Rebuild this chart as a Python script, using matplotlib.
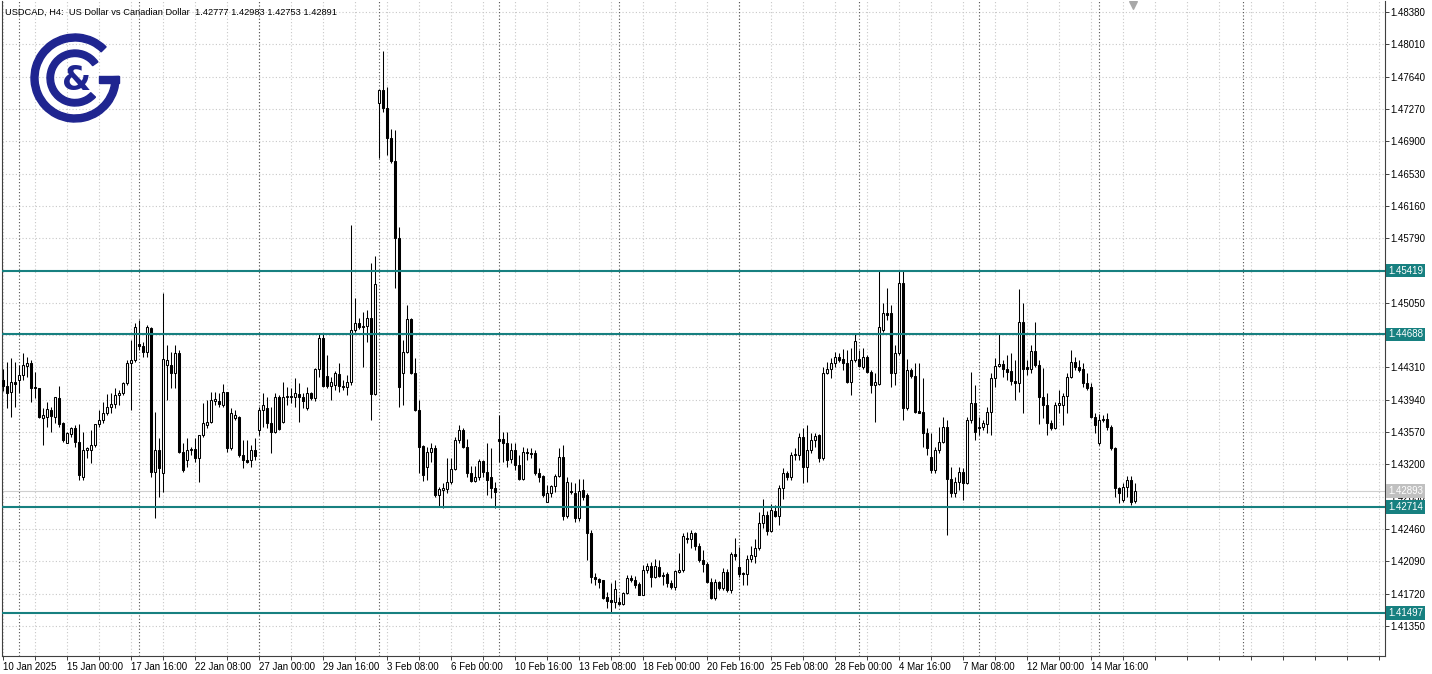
import matplotlib
matplotlib.use("Agg")
import matplotlib.pyplot as plt
import matplotlib.transforms as mtransforms
from matplotlib.patches import Wedge, Rectangle

plt.rcParams['font.family'] = ['Liberation Sans', 'DejaVu Sans']

# ---------------- data (USDCAD H4) ----------------
opens = [
 1.4417,1.4410,1.4403,1.4414,1.4417,1.4422,1.4433,1.4436,1.4409,1.4408,
 1.4373,1.4374,1.4382,1.4374,1.4396,1.4367,1.4345,1.4355,1.4362,1.4346,
 1.4306,1.4337,1.4337,1.4342,1.4366,1.4371,1.4379,1.4386,1.4389,1.4400,
 1.4402,1.4413,1.4436,1.4440,1.4458,1.4455,1.4449,1.4476,1.4311,1.4337,
 1.4310,1.4434,1.4434,1.4425,1.4448,1.4334,1.4325,1.4336,1.4338,1.4327,
 1.4354,1.4365,1.4368,1.4393,1.4393,1.4388,1.4403,1.4339,1.4373,1.4374,
 1.4331,1.4325,1.4325,1.4336,1.4359,1.4382,1.4385,1.4367,1.4357,1.4397,
 1.4369,1.4397,1.4398,1.4397,1.4401,1.4397,1.4385,1.4402,1.4396,1.4429,
 1.4465,1.4421,1.4410,1.4411,1.4424,1.4410,1.4409,1.4414,1.4474,1.4482,
 1.4478,1.4478,1.4488,1.4401,1.4734,1.4749,1.4728,1.4694,1.4667,1.4579,
 1.4425,1.4449,1.4486,1.4425,1.4382,1.4341,1.4317,1.4334,1.4339,1.4285,
 1.4291,1.4292,1.4300,1.4315,1.4348,1.4359,1.4340,1.4310,1.4301,1.4306,
 1.4324,1.4311,1.4306,1.4293,1.4349,1.4349,1.4345,1.4326,1.4337,1.4319,
 1.4303,1.4334,1.4333,1.4333,1.4310,1.4307,1.4277,1.4287,1.4295,1.4307,
 1.4329,1.4261,1.4289,1.4287,1.4259,1.4291,1.4285,1.4242,1.4191,1.4189,
 1.4188,1.4168,1.4165,1.4163,1.4163,1.4160,1.4173,1.4190,1.4188,1.4183,
 1.4171,1.4199,1.4204,1.4191,1.4203,1.4193,1.4195,1.4184,1.4180,1.4197,
 1.4199,1.4236,1.4235,1.4242,1.4226,1.4211,1.4206,1.4185,1.4167,1.4185,
 1.4178,1.4197,1.4176,1.4217,1.4203,1.4196,1.4194,1.4212,1.4215,1.4224,
 1.4253,1.4262,1.4244,1.4267,1.4261,1.4293,1.4310,1.4305,1.4331,1.4331,
 1.4351,1.4317,1.4337,1.4348,1.4354,1.4327,1.4425,1.4429,1.4436,1.4443,
 1.4441,1.4436,1.4414,1.4440,1.4441,1.4432,1.4443,1.4426,1.4411,1.4412,
 1.4474,1.4493,1.4493,1.4425,1.4448,1.4528,1.4385,1.4428,1.4421,1.4381,
 1.4380,1.4356,1.4329,1.4314,1.4337,1.4346,1.4363,1.4303,1.4287,1.4300,
 1.4311,1.4299,1.4371,1.4390,1.4362,1.4363,1.4366,1.4380,1.4419,1.4433,
 1.4435,1.4429,1.4427,1.4415,1.4413,1.4483,1.4432,1.4429,1.4450,1.4434,
 1.4397,1.4388,1.4367,1.4362,1.4388,1.4388,1.4398,1.4420,1.4437,1.4432,
 1.4429,1.4413,1.4409,1.4374,1.4345,1.4371,1.4372,1.4363,1.4339,1.4293,
 1.4279,1.4294,1.4302,1.42777]

highs = [
 1.4429,1.4437,1.4442,1.4437,1.4434,1.4448,1.4443,1.4440,1.4426,1.4408,
 1.4385,1.4391,1.4386,1.4397,1.4410,1.4368,1.4357,1.4363,1.4365,1.4366,
 1.4357,1.4340,1.4359,1.4366,1.4382,1.4391,1.4401,1.4402,1.4407,1.4405,
 1.4414,1.4440,1.4462,1.4482,1.4485,1.4460,1.4480,1.4477,1.4380,1.4350,
 1.4516,1.4457,1.4449,1.4457,1.4451,1.4345,1.4350,1.4340,1.4350,1.4354,
 1.4390,1.4394,1.4403,1.4403,1.4402,1.4412,1.4403,1.4385,1.4382,1.4375,
 1.4348,1.4348,1.4342,1.4350,1.4386,1.4402,1.4397,1.4386,1.4402,1.4399,
 1.4414,1.4409,1.4407,1.4419,1.4413,1.4402,1.4409,1.4403,1.4430,1.4470,
 1.4470,1.4445,1.4420,1.4427,1.4436,1.4417,1.4422,1.4594,1.4510,1.4488,
 1.4495,1.4497,1.4551,1.4559,1.4749,1.4793,1.4752,1.4704,1.4703,1.4592,
 1.4462,1.4503,1.4488,1.4442,1.4394,1.4342,1.4340,1.4345,1.4342,1.4294,
 1.4299,1.4327,1.4327,1.4351,1.4365,1.4362,1.4349,1.4318,1.4318,1.4326,
 1.4325,1.4345,1.4339,1.4300,1.4377,1.4357,1.4357,1.4345,1.4345,1.4331,
 1.4340,1.4339,1.4339,1.4336,1.4316,1.4308,1.4296,1.4296,1.4309,1.4339,
 1.4342,1.4305,1.4300,1.4299,1.4303,1.4303,1.4287,1.4245,1.4196,1.4190,
 1.4188,1.4174,1.4184,1.4188,1.4168,1.4174,1.4193,1.4193,1.4192,1.4185,
 1.4205,1.4207,1.4208,1.4212,1.4211,1.4197,1.4197,1.4188,1.4199,1.4219,
 1.4242,1.4243,1.4245,1.4243,1.4230,1.4222,1.4208,1.4190,1.4189,1.4186,
 1.4201,1.4200,1.4220,1.4236,1.4225,1.4197,1.4216,1.4226,1.4234,1.4266,
 1.4280,1.4267,1.4275,1.4274,1.4296,1.4316,1.4313,1.4334,1.4339,1.4356,
 1.4362,1.4365,1.4356,1.4356,1.4355,1.4432,1.4437,1.4442,1.4449,1.4448,
 1.4452,1.4451,1.4453,1.4471,1.4451,1.4453,1.4445,1.4428,1.4425,1.4541,
 1.4505,1.4522,1.4503,1.4457,1.4543,1.4541,1.4441,1.4430,1.4436,1.4436,
 1.4419,1.4362,1.4356,1.4340,1.4363,1.4374,1.4371,1.4317,1.4306,1.4317,
 1.4316,1.4374,1.4426,1.4411,1.4374,1.4371,1.4386,1.4425,1.4442,1.4471,
 1.4440,1.4445,1.4448,1.4440,1.4521,1.4505,1.4440,1.4457,1.4483,1.4440,
 1.4430,1.4402,1.4371,1.4391,1.4405,1.4402,1.4425,1.4451,1.4443,1.4440,
 1.4436,1.4425,1.4413,1.4379,1.4378,1.4377,1.4379,1.4365,1.4340,1.4294,
 1.4299,1.4307,1.4307,1.42983]

lows = [
 1.4404,1.4385,1.4374,1.4386,1.4402,1.4417,1.4420,1.4391,1.4396,1.4373,
 1.4342,1.4363,1.4357,1.4367,1.4363,1.4346,1.4344,1.4351,1.4340,1.4302,
 1.4302,1.4327,1.4322,1.4340,1.4363,1.4367,1.4377,1.4379,1.4385,1.4388,
 1.4400,1.4411,1.4382,1.4437,1.4451,1.4443,1.4443,1.4306,1.4259,1.4283,
 1.4288,1.4394,1.4407,1.4407,1.4333,1.4311,1.4317,1.4331,1.4323,1.4300,
 1.4351,1.4362,1.4367,1.4388,1.4386,1.4386,1.4334,1.4337,1.4371,1.4328,
 1.4316,1.4322,1.4317,1.4325,1.4354,1.4363,1.4362,1.4333,1.4356,1.4359,
 1.4367,1.4388,1.4390,1.4386,1.4369,1.4385,1.4382,1.4394,1.4393,1.4420,
 1.4409,1.4407,1.4394,1.4405,1.4403,1.4405,1.4400,1.4411,1.4472,1.4475,
 1.4432,1.4460,1.4371,1.4399,1.4671,1.4723,1.4674,1.4665,1.4522,1.4386,
 1.4388,1.4448,1.4423,1.4381,1.4310,1.4301,1.4302,1.4323,1.4283,1.4271,
 1.4270,1.4287,1.4298,1.4314,1.4345,1.4339,1.4305,1.4300,1.4300,1.4302,
 1.4305,1.4285,1.4282,1.4270,1.4323,1.4323,1.4317,1.4322,1.4314,1.4302,
 1.4302,1.4325,1.4327,1.4308,1.4300,1.4283,1.4277,1.4283,1.4288,1.4306,
 1.4256,1.4259,1.4286,1.4254,1.4255,1.4279,1.4210,1.4184,1.4182,1.4178,
 1.4166,1.4156,1.4150,1.4156,1.4159,1.4159,1.4172,1.4185,1.4178,1.4170,
 1.4170,1.4196,1.4180,1.4190,1.4191,1.4182,1.4180,1.4177,1.4176,1.4196,
 1.4197,1.4230,1.4224,1.4222,1.4208,1.4197,1.4184,1.4166,1.4165,1.4176,
 1.4176,1.4174,1.4173,1.4211,1.4191,1.4182,1.4182,1.4208,1.4207,1.4222,
 1.4247,1.4239,1.4243,1.4260,1.4251,1.4280,1.4302,1.4302,1.4325,1.4325,
 1.4299,1.4300,1.4333,1.4340,1.4323,1.4325,1.4423,1.4419,1.4431,1.4437,
 1.4428,1.4413,1.4400,1.4437,1.4431,1.4429,1.4425,1.4402,1.4369,1.4411,
 1.4472,1.4485,1.4409,1.4411,1.4445,1.4371,1.4382,1.4419,1.4379,1.4379,
 1.4340,1.4331,1.4310,1.4310,1.4333,1.4345,1.4239,1.4283,1.4283,1.4291,
 1.4279,1.4298,1.4367,1.4348,1.4354,1.4359,1.4356,1.4354,1.4409,1.4432,
 1.4420,1.4417,1.4411,1.4394,1.4403,1.4379,1.4422,1.4425,1.4432,1.4366,
 1.4373,1.4354,1.4359,1.4360,1.4379,1.4365,1.4379,1.4419,1.4428,1.4426,
 1.4409,1.4405,1.4373,1.4356,1.4342,1.4368,1.4359,1.4337,1.4283,1.4276,
 1.4277,1.4283,1.4273,1.42753]

closes = [
 1.4410,1.4402,1.4414,1.4412,1.4422,1.4434,1.4436,1.4407,1.4407,1.4374,
 1.4377,1.4383,1.4375,1.4397,1.4366,1.4348,1.4356,1.4362,1.4346,1.4308,
 1.4337,1.4339,1.4342,1.4366,1.4371,1.4379,1.4386,1.4389,1.4400,1.4402,
 1.4413,1.4436,1.4440,1.4477,1.4455,1.4449,1.4477,1.4311,1.4337,1.4316,
 1.4441,1.4440,1.4425,1.4448,1.4334,1.4314,1.4337,1.4338,1.4327,1.4354,
 1.4367,1.4368,1.4394,1.4395,1.4389,1.4403,1.4339,1.4379,1.4377,1.4331,
 1.4325,1.4323,1.4336,1.4330,1.4382,1.4388,1.4367,1.4357,1.4397,1.4360,
 1.4397,1.4398,1.4397,1.4402,1.4397,1.4393,1.4402,1.4396,1.4429,1.4465,
 1.4410,1.4410,1.4414,1.4425,1.4410,1.4409,1.4414,1.4474,1.4482,1.4477,
 1.4477,1.4488,1.4401,1.4527,1.4749,1.4728,1.4694,1.4667,1.4579,1.4409,
 1.4449,1.4486,1.4425,1.4382,1.4340,1.4308,1.4334,1.4339,1.4285,1.4292,
 1.4293,1.4300,1.4315,1.4348,1.4359,1.4340,1.4310,1.4301,1.4306,1.4324,
 1.4311,1.4302,1.4293,1.4288,1.4347,1.4345,1.4325,1.4337,1.4319,1.4303,
 1.4334,1.4333,1.4332,1.4310,1.4306,1.4285,1.4287,1.4295,1.4307,1.4329,
 1.4261,1.4300,1.4288,1.4259,1.4289,1.4283,1.4242,1.4191,1.4189,1.4185,
 1.4167,1.4164,1.4163,1.4177,1.4160,1.4173,1.4190,1.4188,1.4182,1.4171,
 1.4199,1.4204,1.4191,1.4204,1.4192,1.4192,1.4184,1.4180,1.4198,1.4199,
 1.4238,1.4235,1.4242,1.4226,1.4211,1.4206,1.4185,1.4167,1.4185,1.4178,
 1.4197,1.4176,1.4217,1.4215,1.4195,1.4194,1.4212,1.4216,1.4224,1.4253,
 1.4262,1.4244,1.4268,1.4261,1.4293,1.4310,1.4305,1.4331,1.4332,1.4351,
 1.4317,1.4337,1.4348,1.4353,1.4327,1.4425,1.4429,1.4436,1.4443,1.4440,
 1.4436,1.4414,1.4440,1.4461,1.4433,1.4443,1.4426,1.4411,1.4414,1.4477,
 1.4493,1.4491,1.4425,1.4448,1.4528,1.4385,1.4428,1.4421,1.4380,1.4379,
 1.4356,1.4339,1.4314,1.4337,1.4346,1.4363,1.4303,1.4287,1.4300,1.4311,
 1.4299,1.4371,1.4390,1.4357,1.4363,1.4367,1.4380,1.4419,1.4433,1.4435,
 1.4429,1.4426,1.4415,1.4413,1.4483,1.4429,1.4429,1.4450,1.4434,1.4397,
 1.4388,1.4367,1.4362,1.4388,1.4390,1.4398,1.4420,1.4437,1.4432,1.4428,
 1.4413,1.4407,1.4374,1.4365,1.4371,1.4372,1.4363,1.4339,1.4293,1.4287,
 1.4294,1.4302,1.4277,1.42891]

date_labels = ["10 Jan 2025", "15 Jan 00:00", "17 Jan 16:00", "22 Jan 08:00",
               "27 Jan 00:00", "29 Jan 16:00", "3 Feb 08:00", "6 Feb 00:00",
               "10 Feb 16:00", "13 Feb 08:00", "18 Feb 00:00", "20 Feb 16:00",
               "25 Feb 08:00", "28 Feb 00:00", "4 Mar 16:00", "7 Mar 08:00",
               "12 Mar 00:00", "14 Mar 16:00"]
bars_per_label = 16
week_separators = [4, 34, 64, 94, 124, 154, 184, 214, 244, 274, 310]
price_ticks = [1.41350, 1.41720, 1.42090, 1.42460, 1.42830, 1.43200, 1.43570,
               1.43940, 1.44310, 1.44680, 1.45050, 1.45420, 1.45790, 1.46160,
               1.46530, 1.46900, 1.47270, 1.47640, 1.48010, 1.48380]
levels = [1.45419, 1.44688, 1.42714, 1.41497]
bid = 1.42893
symbol_title = "USDCAD, H4:  US Dollar vs Canadian Dollar"

# ---------------- figure ----------------
W, H = 1432, 674
fig = plt.figure(figsize=(W / 100, H / 100), dpi=100)
fig.patch.set_facecolor('white')
ax = fig.add_axes([2 / W, 18 / H, 1383 / W, 655 / H])
ax.set_facecolor('white')

n = len(closes)
xs = list(range(n))
ax.set_xlim(-0.175, 345.575)
ax.set_ylim(1.41006, 1.48506)

# grid
grid_kw = dict(color='#c8c8c8', linestyle=(0, (1, 2)), linewidth=0.8)
major_x = [i * bars_per_label for i in range(len(date_labels))]
minor_x = [k for k in range(8, 345, 8) if k not in major_x]
ax.set_xticks(major_x)
ax.set_xticklabels(date_labels, fontsize=7)
for lab in ax.get_xticklabels():
    lab.set_ha('left')
ax.set_xticks(minor_x, minor=True)
ax.grid(True, which='both', axis='x', zorder=0, **grid_kw)
ax.yaxis.tick_right()
ax.set_yticks(price_ticks)
# tick labels fully covered by a level box are not shown
ytl = []
for p in price_ticks:
    hidden = any(abs(p - lv) < 0.0003 for lv in levels)
    ytl.append('' if hidden else f"{p:.5f}")
ax.set_yticklabels(ytl, fontsize=7)
ax.grid(True, which='major', axis='y', zorder=0, **grid_kw)
ax.set_axisbelow(True)

ax.tick_params(axis='x', which='both', direction='out', length=3, width=0.7,
               color='#404040', pad=1.5, labelsize=7)
ax.tick_params(axis='y', which='both', direction='out', length=3, width=0.7,
               color='#404040', pad=1, labelsize=7)
for s in ['left', 'right', 'bottom']:
    ax.spines[s].set_color('#404040')
    ax.spines[s].set_linewidth(0.8)
ax.spines['top'].set_visible(False)

for sep in week_separators:
    ax.axvline(sep, color='#505050', linestyle=(0, (1, 2)), linewidth=0.8, zorder=1)

# candles
ax.vlines(xs, lows, highs, color='black', linewidth=0.75, zorder=3)
bottoms = [min(o, c) for o, c in zip(opens, closes)]
heights = [abs(c - o) for o, c in zip(opens, closes)]
faces = ['white' if c >= o else 'black' for o, c in zip(opens, closes)]
ax.bar(xs, heights, bottom=bottoms, width=0.55, color=faces,
       edgecolor='black', linewidth=0.75, zorder=4)

# horizontal levels
teal = '#178080'
ytrans = mtransforms.blended_transform_factory(ax.transAxes, ax.transData)
for lv in levels:
    ax.axhline(lv, color=teal, linewidth=1.5, zorder=5)
    ax.text(1 + 3 / 1383, lv, f"{lv:.5f}", transform=ytrans, ha='left', va='center',
            fontsize=7, color='white', zorder=10, clip_on=False,
            bbox=dict(boxstyle='square,pad=0.18', fc=teal, ec='none'))

ax.axhline(bid, color='#cfcfcf', linewidth=0.8, zorder=2)
ax.text(1 + 3 / 1383, bid, f"{bid:.5f}", transform=ytrans, ha='left', va='center',
        fontsize=7, color='white', zorder=9, clip_on=False,
        bbox=dict(boxstyle='square,pad=0.18', fc='#c0c0c0', ec='none'))

# chart shift marker
ax.scatter([n - 1.5], [0.994],
           transform=mtransforms.blended_transform_factory(ax.transData, ax.transAxes),
           marker='v', s=30, color='#a8a8a8', clip_on=False, zorder=6)

# header
fig.text(5 / W, 1 - 12 / H,
         f"{symbol_title}  {opens[-1]:.5f} {highs[-1]:.5f} {lows[-1]:.5f} {closes[-1]:.5f}",
         fontsize=6.7, va='center', ha='left', color='black')

# logo
navy = '#1f2590'
lax = fig.add_axes([25 / W, 1 - 126 / H, 100 / W, 96 / H])
lax.set_xlim(-50, 50)
lax.set_ylim(-48, 48)
lax.set_aspect('equal')
lax.axis('off')
lax.add_patch(Wedge((0, 0), 44, 45, 362, width=7, color=navy))
lax.add_patch(Rectangle((24, -5), 20, 7, color=navy))
lax.add_patch(Wedge((0, 0), 28, 35, 317, width=6.5, color=navy))
lax.text(2, -2, "&", fontsize=24, fontweight='bold', color=navy,
         ha='center', va='center', family='DejaVu Sans')

fig.savefig('out.png', dpi=100, facecolor='white')
